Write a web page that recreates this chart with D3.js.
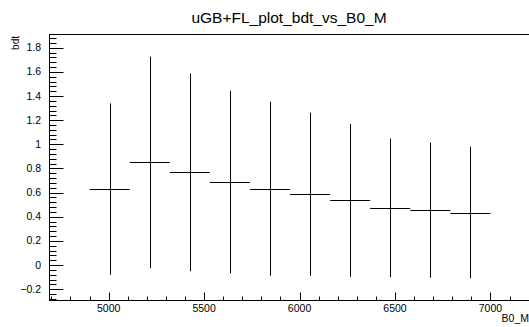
<!DOCTYPE html>
<html>
<head>
<meta charset="utf-8">
<script src="https://cdn.jsdelivr.net/npm/d3@7"></script>
<style>
  body { margin: 0; background: #fff; }
  svg { display: block; font-family: "Liberation Sans", Arial, sans-serif; }
</style>
</head>
<body>
<svg id="chart" width="529" height="327"></svg>
<script>
// Bins of B0_M (low edge, high edge) and the profile values.
const binLow  = [4900, 5110, 5320, 5530, 5740, 5950, 6160, 6370, 6580, 6790];
const binHigh = [5110, 5320, 5530, 5740, 5950, 6160, 6370, 6580, 6790, 7000];
const bdtMean = [0.629, 0.850, 0.768, 0.687, 0.632, 0.587, 0.536, 0.474, 0.455, 0.435];
const bdtErr  = [0.710, 0.877, 0.819, 0.756, 0.720, 0.676, 0.633, 0.574, 0.560, 0.545];

const xTicks = [5000, 5500, 6000, 6500, 7000];
const yTicks = [-0.2, 0, 0.2, 0.4, 0.6, 0.8, 1, 1.2, 1.4, 1.6, 1.8];

const svg = d3.select("#chart");
const frame = { left: 49.5, right: 530.5, top: 34.5, bottom: 300.5 };

const x = d3.scaleLinear().domain([4690, 7210]).range([frame.left, frame.right]);
const y = d3.scaleLinear().domain([-0.294, 1.91]).range([frame.bottom, frame.top]);

// Titre
svg.append("text")
    .attr("x", 289)
    .attr("y", 23)
    .attr("text-anchor", "middle")
    .attr("font-size", "15.5px")
    .text("uGB+FL_plot_bdt_vs_B0_M");

// Cadre
svg.append("rect")
    .attr("x", frame.left)
    .attr("y", frame.top)
    .attr("width", frame.right - frame.left)
    .attr("height", frame.bottom - frame.top)
    .attr("fill", "none")
    .attr("stroke", "#000")
    .attr("stroke-width", 1);

const fmt = d => d < 0 ? "\u2212" + Math.abs(d) : String(d);

// Axe X : ticks vers le haut, à l'intérieur du cadre
const xMinor = d3.range(4700, 7201, 100);
const gx = svg.append("g");
gx.selectAll("line.minor")
    .data(xMinor)
    .enter()
    .append("line")
    .attr("x1", d => Math.round(x(d)) + 0.5)
    .attr("x2", d => Math.round(x(d)) + 0.5)
    .attr("y1", frame.bottom)
    .attr("y2", d => frame.bottom - (xTicks.includes(d) ? 8 : 4))
    .attr("stroke", "#000");
gx.selectAll("text")
    .data(xTicks)
    .enter()
    .append("text")
    .attr("x", d => x(d))
    .attr("y", 312)
    .attr("text-anchor", "middle")
    .attr("font-size", "10.5px")
    .text(fmt);

svg.append("text")
    .attr("x", 529)
    .attr("y", 322)
    .attr("text-anchor", "end")
    .attr("font-size", "10.5px")
    .text("B0_M");

// Axe Y : ticks vers la droite
const yMinor = d3.range(-0.28, 1.9, 0.04).map(v => Math.round(v * 100) / 100);
const gy = svg.append("g");
gy.selectAll("line")
    .data(yMinor)
    .enter()
    .append("line")
    .attr("x1", frame.left)
    .attr("x2", d => frame.left + (yTicks.some(t => Math.abs(t - d) < 1e-6) ? 14 : 7))
    .attr("y1", d => Math.round(y(d)) + 0.5)
    .attr("y2", d => Math.round(y(d)) + 0.5)
    .attr("stroke", "#000");
gy.selectAll("text")
    .data(yTicks)
    .enter()
    .append("text")
    .attr("x", 41)
    .attr("y", d => y(d) + 3.5)
    .attr("text-anchor", "end")
    .attr("font-size", "10.5px")
    .text(fmt);

svg.append("text")
    .attr("transform", "translate(19,36) rotate(-90)")
    .attr("text-anchor", "end")
    .attr("font-size", "10px")
    .text("bdt");

// Points du profil avec barres d'erreur
const bins = binLow.map((lo, i) => ({
    lo: lo,
    hi: binHigh[i],
    mid: (lo + binHigh[i]) / 2,
    mean: bdtMean[i],
    err: bdtErr[i]
}));

const g = svg.append("g").attr("stroke", "#000").attr("stroke-width", 1);
g.selectAll("line.h")
    .data(bins)
    .enter()
    .append("line")
    .attr("class", "h")
    .attr("x1", d => x(d.lo))
    .attr("x2", d => x(d.hi))
    .attr("y1", d => Math.round(y(d.mean)) + 0.5)
    .attr("y2", d => Math.round(y(d.mean)) + 0.5);
g.selectAll("line.v")
    .data(bins)
    .enter()
    .append("line")
    .attr("class", "v")
    .attr("x1", d => Math.round(x(d.mid)) + 0.5)
    .attr("x2", d => Math.round(x(d.mid)) + 0.5)
    .attr("y1", d => y(d.mean + d.err))
    .attr("y2", d => y(d.mean - d.err));
</script>
</body>
</html>
